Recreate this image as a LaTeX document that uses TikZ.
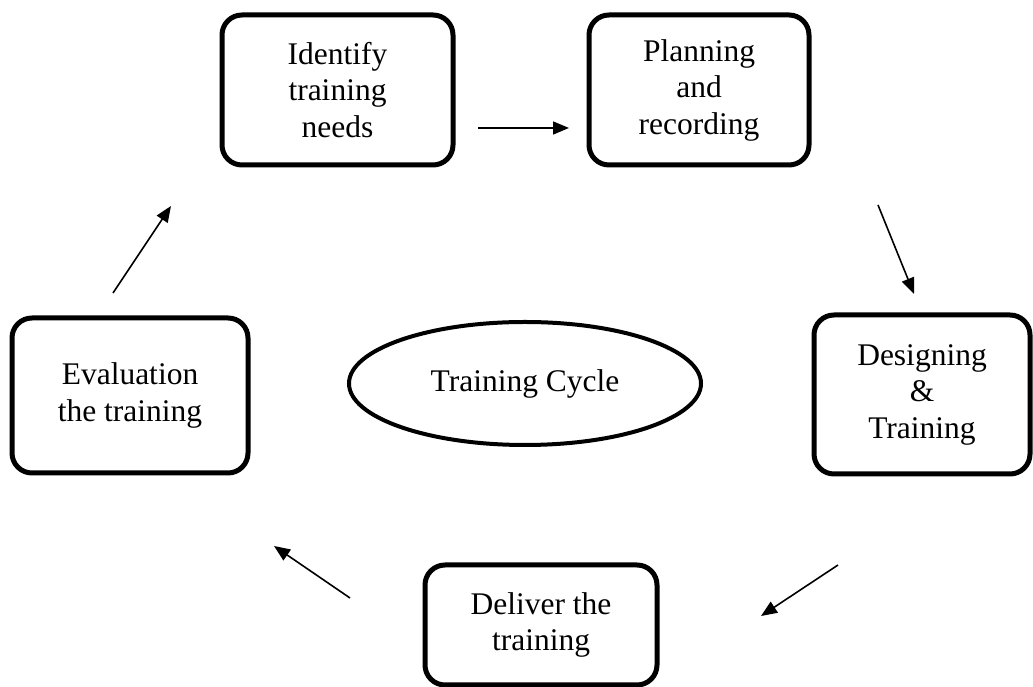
\documentclass[tikz,border=0pt]{standalone}
\usepackage{fontspec}
\setmainfont{Liberation Serif}
\usetikzlibrary{arrows.meta,shapes.geometric}
\begin{document}
\begin{tikzpicture}[x=1pt,y=1pt,
  stepbox/.style={draw=black,line width=5pt,rounded corners=20pt,inner sep=0pt,
    align=center,font=\fontsize{31.5}{36.5}\selectfont},
  cyclebox/.style={draw=black,ellipse,line width=4pt,inner sep=0pt,
    font=\fontsize{31.5}{36.5}\selectfont},
  flow/.style={line width=1.6pt,-{Triangle[length=16pt,width=13pt]}}]
\useasboundingbox (0,0) rectangle (1033,687);
\node[stepbox,minimum width=231pt,minimum height=150pt] (identify) at (337.5,597) {Identify\\training\\needs};
\node[stepbox,minimum width=220pt,minimum height=150pt] (planning) at (699,597) {Planning\\and\\recording};
\node[stepbox,minimum width=216pt,minimum height=159pt] (designing) at (922,292.5) {Designing\\\&\\Training};
\node[stepbox,minimum width=232pt,minimum height=120pt] (deliver) at (541,62) {Deliver the\\training};
\node[stepbox,minimum width=236pt,minimum height=155pt] (evaluation) at (130,291.5) {Evaluation\\the training};
\node[cyclebox,minimum width=352pt,minimum height=123pt] (cycle) at (525,303.5) {Training Cycle};
\coordinate (a1s) at (478,559);
\coordinate (a1e) at (569,559);
\coordinate (a2s) at (878,482);
\coordinate (a2e) at (914,393);
\coordinate (a3s) at (838,122);
\coordinate (a3e) at (761,71);
\coordinate (a4s) at (350,89);
\coordinate (a4e) at (274,141);
\coordinate (a5s) at (113,394);
\coordinate (a5e) at (171,481);
\draw[flow] (a1s) -- (a1e);
\draw[flow] (a2s) -- (a2e);
\draw[flow] (a3s) -- (a3e);
\draw[flow] (a4s) -- (a4e);
\draw[flow] (a5s) -- (a5e);
\end{tikzpicture}
\end{document}
